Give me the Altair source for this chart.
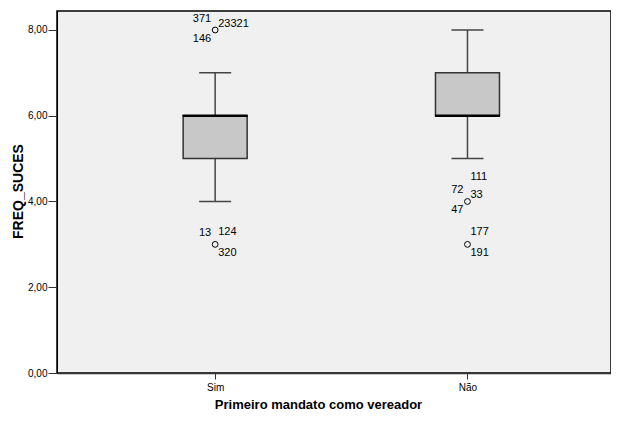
import altair as alt
import pandas as pd

categories = ["Sim", "Não"]
whisker_low = [4, 5]
q1 = [5, 6]
median = [6, 6]
q3 = [6, 7]
whisker_high = [7, 8]

out_cat = ["Sim", "Sim", "Não", "Não"]
out_val = [8, 3, 4, 3]

label_text = ["371", "146", "23321", "13", "124", "320", "111", "72", "33", "47", "177", "191"]
label_cat = ["Sim", "Sim", "Sim", "Sim", "Sim", "Sim", "Não", "Não", "Não", "Não", "Não", "Não"]
label_val = [8, 8, 8, 3, 3, 3, 4, 4, 4, 4, 3, 3]
label_pos = ["ul", "ll", "r", "ul", "ur", "lr", "u2", "ul", "r", "ll", "ur", "lr"]

FONT = "Liberation Sans"

box = pd.DataFrame({
    "cat": categories,
    "x": [categories.index(c) + 1 for c in categories],
    "lo": whisker_low, "q1": q1, "med": median, "q3": q3, "hi": whisker_high,
})
outl = pd.DataFrame({"cat": out_cat, "x": [categories.index(c) + 1 for c in out_cat], "v": out_val})
labs = pd.DataFrame({"t": label_text, "x": [categories.index(c) + 1 for c in label_cat],
                     "v": label_val, "pos": label_pos})

xscale = alt.Scale(domain=[0.393, 2.549], nice=False, zero=False)
yscale = alt.Scale(domain=[0, 8.443], nice=False)

xaxis = alt.Axis(
    values=[1, 2], labelExpr="datum.value == 1 ? 'Sim' : 'Não'",
    title="Primeiro mandato como vereador", grid=False,
    tickSize=6, tickColor="#333", domainColor="#333", domainWidth=1.5,
    labelFont=FONT, labelFontSize=10, labelColor="black", labelPadding=3,
    titleFont=FONT, titleFontSize=13, titleFontWeight="bold", titleColor="black",
    titlePadding=6, titleX=261, titleAlign="center",
)
yaxis = alt.Axis(
    values=[0, 2, 4, 6, 8], labelExpr="replace(format(datum.value, '.2f'), '.', ',')",
    title="FREQ_SUCES", grid=False,
    tickSize=9, tickColor="#333", domainColor="black",
    labelFont=FONT, labelFontSize=10, labelColor="black", labelPadding=1,
    titleFont=FONT, titleFontSize=14, titleFontWeight="bold", titleColor="black",
    titleX=-39, titleY=180, titleAngle=270, titleAlign="center", titleBaseline="middle",
)

base = alt.Chart(box)
x = alt.X("x:Q", scale=xscale, axis=xaxis)

whisk_up = base.mark_rule(color="#444", strokeWidth=1.5).encode(
    x=x, y=alt.Y("q3:Q", scale=yscale, axis=yaxis), y2="hi:Q")
whisk_dn = base.mark_rule(color="#444", strokeWidth=1.5).encode(
    x="x:Q", y="lo:Q", y2="q1:Q")
cap_hi = base.mark_tick(orient="horizontal", size=32, thickness=1.5, color="#444", opacity=1).encode(
    x="x:Q", y="hi:Q")
cap_lo = base.mark_tick(orient="horizontal", size=32, thickness=1.5, color="#444", opacity=1).encode(
    x="x:Q", y="lo:Q")
boxes = base.mark_bar(size=64, fill="#c8c8c8", stroke="#333", strokeWidth=1.5).encode(
    x="x:Q", y="q1:Q", y2="q3:Q")
med = base.mark_tick(orient="horizontal", size=65, thickness=2.5, color="black", opacity=1).encode(
    x="x:Q", y="med:Q")

pts = alt.Chart(outl).mark_point(shape="circle", filled=False, size=34, stroke="black",
                                 strokeWidth=1, opacity=1).encode(x="x:Q", y="v:Q")

offsets = {
    "ul": ("right", -4, -11),
    "ll": ("right", -4, 9),
    "ur": ("left", 3, -12),
    "lr": ("left", 3, 9),
    "r": ("left", 3, -6),
    "u2": ("left", 3, -24),
}
texts = []
for k, (al, dx, dy) in offsets.items():
    texts.append(
        alt.Chart(labs).transform_filter(alt.datum.pos == k).mark_text(
            align=al, baseline="middle", dx=dx, dy=dy, font=FONT, fontSize=11, color="black"
        ).encode(x="x:Q", y="v:Q", text="t:N")
    )

chart = alt.layer(whisk_up, whisk_dn, cap_hi, cap_lo, boxes, med, pts, *texts).properties(
    width=554, height=362,
    autosize=alt.AutoSizeParams(type="none"),
    padding={"left": 49, "top": 3, "right": 0, "bottom": 41},
    background="white",
).configure_view(fill="#f0f0f0", stroke="black", strokeWidth=1.5)

chart.save("out.html", embed_options={"renderer": "svg", "actions": False})
